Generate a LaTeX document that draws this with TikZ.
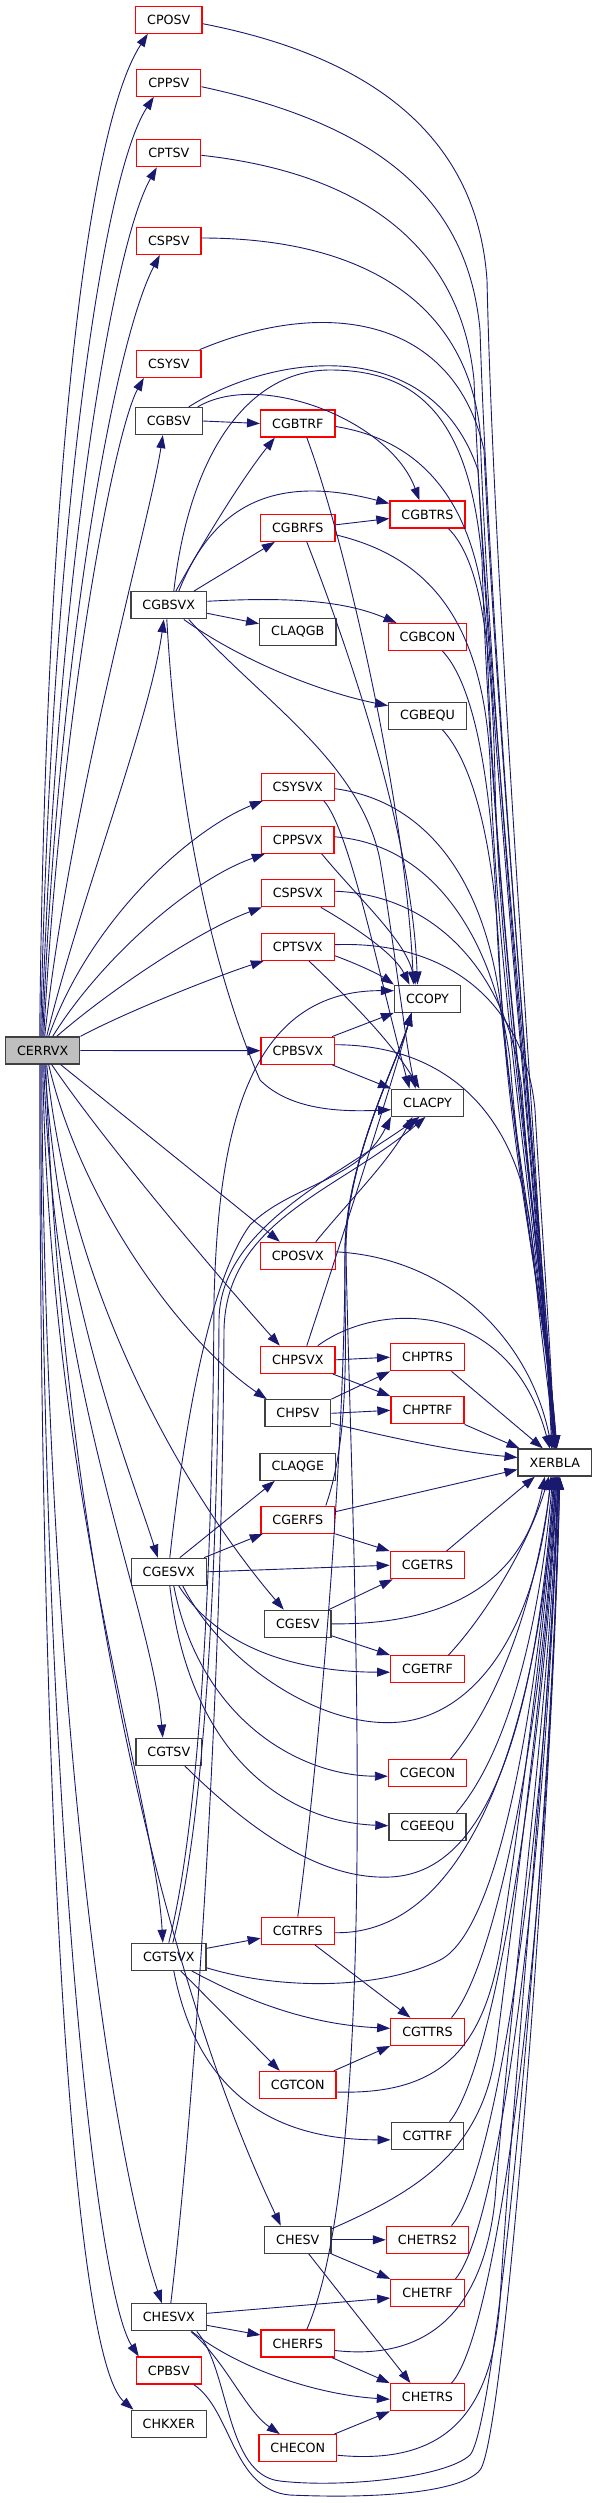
\documentclass[tikz,border=0pt]{standalone}
\usepackage{fontspec}
\newfontfamily\dvs{DejaVu Sans}
\usetikzlibrary{arrows.meta}
\definecolor{edgec}{HTML}{191970}
\definecolor{gfill}{HTML}{BFBFBF}
\begin{document}
\begin{tikzpicture}[x=1pt,y=-1pt,
 box/.style={draw=black!75, line width=1.3pt, fill=white, font=\dvs\fontsize{12.7}{15}\selectfont, minimum height=27pt, inner xsep=11.5pt, inner ysep=0pt},
 rbox/.style={box, draw=red},
 e/.style={draw=edgec, line width=0.9pt, -{Triangle[length=13pt,width=9pt]}}]
\useasboundingbox[fill=white] (0,0) rectangle (595,2503);
% nodes
\node[box, fill=gfill] (CERRVX) at (42.7,1050.5) {CERRVX};
\node[rbox] (CPOSV) at (168.8,19.7) {CPOSV};
\node[rbox] (CPPSV) at (168.8,82.7) {CPPSV};
\node[rbox] (CPTSV) at (168.8,153.3) {CPTSV};
\node[rbox] (CSPSV) at (168.8,241) {CSPSV};
\node[rbox] (CSYSV) at (168.8,363.8) {CSYSV};
\node[box] (CGBSV) at (168.8,421) {CGBSV};
\node[box] (CGBSVX) at (168.8,605.3) {CGBSVX};
\node[box] (CGESVX) at (168.8,1571.8) {CGESVX};
\node[box] (CGTSV) at (168.8,1751.8) {CGTSV};
\node[box] (CGTSVX) at (168.8,1956.8) {CGTSVX};
\node[box] (CHESVX) at (168.8,2317.3) {CHESVX};
\node[rbox] (CPBSV) at (168.8,2370.5) {CPBSV};
\node[box] (CHKXER) at (168.8,2423.8) {CHKXER};
\node[rbox] (CGBTRF) at (297.8,423.5) {CGBTRF};
\node[rbox] (CGBRFS) at (297.8,527.8) {CGBRFS};
\node[box] (CLAQGB) at (297.8,631.7) {CLAQGB};
\node[rbox] (CSYSVX) at (297.8,786.7) {CSYSVX};
\node[rbox] (CPPSVX) at (297.8,839.8) {CPPSVX};
\node[rbox] (CSPSVX) at (297.8,893.2) {CSPSVX};
\node[rbox] (CPTSVX) at (297.8,946.7) {CPTSVX};
\node[rbox] (CPBSVX) at (297.8,1050.7) {CPBSVX};
\node[rbox] (CPOSVX) at (297.8,1255.8) {CPOSVX};
\node[rbox] (CHPSVX) at (297.8,1359.8) {CHPSVX};
\node[box] (CHPSV) at (297.8,1413.3) {CHPSV};
\node[box] (CLAQGE) at (297.8,1466.7) {CLAQGE};
\node[rbox] (CGERFS) at (297.8,1519.7) {CGERFS};
\node[box] (CGESV) at (297.8,1623.8) {CGESV};
\node[rbox] (CGTRFS) at (297.8,1930.7) {CGTRFS};
\node[rbox] (CGTCON) at (297.8,2085) {CGTCON};
\node[box] (CHESV) at (297.8,2239.8) {CHESV};
\node[rbox] (CHERFS) at (297.8,2343.5) {CHERFS};
\node[rbox] (CHECON) at (297.8,2448.2) {CHECON};
\node[rbox] (CGBTRS) at (427.5,514.5) {CGBTRS};
\node[rbox] (CGBCON) at (427.5,637) {CGBCON};
\node[box] (CGBEQU) at (427.5,715.7) {CGBEQU};
\node[box] (CCOPY) at (427.5,998.7) {CCOPY};
\node[box] (CLACPY) at (427.5,1102.7) {CLACPY};
\node[rbox] (CHPTRS) at (427.5,1357.2) {CHPTRS};
\node[rbox] (CHPTRF) at (427.5,1410.3) {CHPTRF};
\node[rbox] (CGETRS) at (427.5,1565.2) {CGETRS};
\node[rbox] (CGETRF) at (427.5,1669.2) {CGETRF};
\node[rbox] (CGECON) at (427.5,1773.2) {CGECON};
\node[box] (CGEEQU) at (427.5,1826.7) {CGEEQU};
\node[rbox] (CGTTRS) at (427.5,2031.8) {CGTTRS};
\node[box] (CGTTRF) at (427.5,2135.8) {CGTTRF};
\node[rbox] (CHETRS2) at (427.5,2239.8) {CHETRS2};
\node[rbox] (CHETRF) at (427.5,2293) {CHETRF};
\node[rbox] (CHETRS) at (427.5,2397.2) {CHETRS};
\node[box] (XERBLA) at (554.8,1462.5) {XERBLA};
% CERRVX out
\draw[e] ([xshift=-3pt]CERRVX.north) .. controls (45,500) and (85,130) .. ([xshift=-21pt]CPOSV.south);
\draw[e] ([xshift=-2pt]CERRVX.north) .. controls (50,550) and (100,180) .. ([xshift=-15pt]CPPSV.south);
\draw[e] ([xshift=-1pt]CERRVX.north) .. controls (55,600) and (110,250) .. ([xshift=-12pt]CPTSV.south);
\draw[e] (CERRVX.north) .. controls (58,650) and (115,340) .. ([xshift=-9pt]CSPSV.south);
\draw[e] ([xshift=1pt]CERRVX.north) .. controls (62,700) and (115,430) .. ([xshift=-25pt]CSYSV.south);
\draw[e] ([xshift=2pt]CERRVX.north) .. controls (70,800) and (150,520) .. ([xshift=-6pt]CGBSV.south);
\draw[e] ([xshift=4pt]CERRVX.north) .. controls (80,900) and (150,720) .. ([xshift=-5pt]CGBSVX.south);
\draw[e] ([xshift=6pt]CERRVX.north) .. controls (90,920) and (190,830) .. ([xshift=-35pt]CSYSVX.south);
\draw[e] ([xshift=10pt]CERRVX.north) .. controls (100,960) and (190,880) .. ([xshift=-33pt]CPPSVX.south);
\draw[e] ([xshift=14pt]CERRVX.north) .. controls (110,990) and (200,930) .. ([xshift=-36pt]CSPSVX.south);
\draw[e] (CERRVX.north east) .. controls (130,1010) and (220,975) .. ([xshift=-34pt]CPTSVX.south);
\draw[e] (CERRVX.east) -- (CPBSVX.west);
\draw[e] ([xshift=18pt]CERRVX.south) -- ([xshift=-18pt]CPOSVX.north);
\draw[e] ([xshift=9pt]CERRVX.south) .. controls (110,1150) and (230,1290) .. ([xshift=-18pt]CHPSVX.north);
\draw[e] ([xshift=6pt]CERRVX.south) .. controls (80,1200) and (180,1340) .. ([xshift=-31pt]CHPSV.north);
\draw[e] ([xshift=4pt]CERRVX.south) .. controls (70,1300) and (190,1500) .. ([xshift=-14pt]CGESV.north);
\draw[e] ([xshift=2pt]CERRVX.south) .. controls (60,1300) and (130,1470) .. ([xshift=-11pt]CGESVX.north);
\draw[e] ([xshift=1pt]CERRVX.south) .. controls (55,1400) and (150,1600) .. ([xshift=-6pt]CGTSV.north);
\draw[e] (CERRVX.south) .. controls (50,1500) and (155,1800) .. ([xshift=-6pt]CGTSVX.north);
\draw[e] ([xshift=3pt]CERRVX.south) .. controls (60,1500) and (150,1950) .. ([xshift=-17pt]CHESV.north);
\draw[e] ([xshift=-1pt]CERRVX.south) .. controls (45,1700) and (110,2150) .. ([xshift=-7pt]CHESVX.north);
\draw[e] ([xshift=-2pt]CERRVX.south) .. controls (42,1800) and (95,2290) .. ([xshift=3pt]CPBSV.north west);
\draw[e] ([xshift=-3pt]CERRVX.south) .. controls (40,1850) and (75,2360) .. ([xshift=3pt]CHKXER.north west);
% to XERBLA from above
\draw[e] ([yshift=-4pt]CPOSV.east) .. controls (390,60) and (478,150) .. (487,280) .. controls (494,600) and (540,1200) .. ([xshift=-3pt]XERBLA.north);
\draw[e] ([yshift=-4pt]CPPSV.east) .. controls (380,125) and (468,200) .. (480,330) .. controls (490,650) and (538,1200) .. ([xshift=-2pt]XERBLA.north);
\draw[e] ([yshift=-2pt]CPTSV.east) .. controls (380,175) and (462,260) .. (474,380) .. controls (486,700) and (536,1200) .. ([xshift=-1pt]XERBLA.north);
\draw[e] ([yshift=3pt]CSPSV.east) .. controls (360,238) and (465,300) .. (480,430) .. controls (490,720) and (536,1200) .. (XERBLA.north);
\draw[e] ([xshift=-2pt]CSYSV.north east) .. controls (330,295) and (455,320) .. (484,450) .. controls (496,720) and (538,1200) .. ([xshift=1pt]XERBLA.north);
\draw[e] ([xshift=20pt]CGBSV.north) .. controls (270,355) and (430,330) .. (478,470) .. controls (494,740) and (538,1200) .. ([xshift=1pt]XERBLA.north);
\draw[e] ([yshift=-3pt]CGBTRF.east) .. controls (420,440) and (480,500) .. (487,640) .. controls (494,900) and (540,1250) .. ([xshift=2pt]XERBLA.north);
\draw[e] ([xshift=5pt]CGBSVX.north) .. controls (190,450) and (250,370) .. (330,370) .. controls (420,370) and (470,420) .. (482,560) .. controls (492,900) and (540,1250) .. ([xshift=1pt]XERBLA.north);
\draw[e] ([yshift=-7pt]CGBRFS.east) .. controls (420,555) and (482,610) .. (490,760) .. controls (498,1000) and (540,1250) .. (XERBLA.north);
\draw[e] ([xshift=21pt]CGBTRS.south) .. controls (480,560) and (492,640) .. (495,780) .. controls (500,1000) and (542,1250) .. ([xshift=1pt]XERBLA.north);
\draw[e] ([xshift=15pt]CGBCON.south) .. controls (470,680) and (490,760) .. (496,900) .. controls (502,1100) and (544,1300) .. ([xshift=2pt]XERBLA.north);
\draw[e] ([xshift=15pt]CGBEQU.south) .. controls (470,760) and (492,830) .. (499,950) .. controls (506,1150) and (546,1300) .. ([xshift=2pt]XERBLA.north);
\draw[e] ([yshift=-2pt]CSYSVX.east) .. controls (420,800) and (482,870) .. (500,1000) .. controls (515,1150) and (546,1300) .. (XERBLA.north);
\draw[e] ([yshift=3pt]CPPSVX.east) .. controls (440,845) and (496,950) .. (510,1060) .. controls (520,1200) and (547,1330) .. (XERBLA.north);
\draw[e] ([yshift=2pt]CSPSVX.east) .. controls (440,895) and (510,980) .. (522,1090) .. controls (530,1210) and (548,1330) .. (XERBLA.north);
\draw[e] ([yshift=2pt]CPTSVX.east) .. controls (455,940) and (526,1010) .. (535,1110) .. controls (542,1230) and (550,1340) .. (XERBLA.north);
\draw[e] ([yshift=6pt]CPBSVX.east) .. controls (460,1045) and (522,1130) .. (532,1240) .. controls (540,1330) and (550,1400) .. (XERBLA.north);
\draw[e] ([yshift=4pt]CPOSVX.east) .. controls (450,1258) and (530,1340) .. ([xshift=-3pt]XERBLA.north);
\draw[e] ([xshift=20pt]CHPSVX.north) .. controls (380,1300) and (510,1300) .. ([xshift=-5pt]XERBLA.north);
\draw[e] ([xshift=24pt]CHPTRS.south) -- ([xshift=-12pt]XERBLA.north);
\draw[e] (CHPTRF.south east) -- ([xshift=2pt]XERBLA.north west);
\draw[e] ([yshift=-10pt]CHPSV.east) .. controls (400,1440) and (460,1452) .. ([yshift=5pt]XERBLA.west);
\draw[e] ([yshift=8pt]CGERFS.east) -- ([yshift=-7pt]XERBLA.west);
% to XERBLA from below
\draw[e] ([xshift=19pt]CGETRS.north) -- ([xshift=-20pt]XERBLA.south);
\draw[e] (CGESV.east) .. controls (420,1625) and (520,1600) .. ([xshift=-10pt]XERBLA.south);
\draw[e] ([xshift=21pt]CGETRF.north) .. controls (490,1610) and (530,1540) .. ([xshift=-6pt]XERBLA.south);
\draw[e] ([xshift=14pt]CGESVX.south) .. controls (220,1660) and (320,1730) .. (400,1722) .. controls (470,1715) and (535,1640) .. ([xshift=-4pt]XERBLA.south);
\draw[e] ([xshift=23pt]CGECON.north) .. controls (500,1700) and (535,1600) .. ([xshift=-3pt]XERBLA.south);
\draw[e] ([xshift=29pt]CGEEQU.north) .. controls (510,1750) and (540,1620) .. ([xshift=-2pt]XERBLA.south);
\draw[e] ([xshift=16pt]CGTSV.south) .. controls (250,1830) and (320,1880) .. (390,1877) .. controls (460,1874) and (530,1800) .. ([xshift=-1pt]XERBLA.south);
\draw[e] ([yshift=-11pt]CGTSVX.east) .. controls (280,1990) and (380,1990) .. (440,1960) .. controls (500,1930) and (538,1700) .. (XERBLA.south);
\draw[e] ([yshift=-2pt]CGTRFS.east) .. controls (480,1935) and (540,1700) .. (XERBLA.south);
\draw[e] ([xshift=24pt]CGTTRS.north) .. controls (500,1960) and (545,1700) .. ([xshift=1pt]XERBLA.south);
\draw[e] ([yshift=-7pt]CGTCON.east) .. controls (440,2095) and (482,2050) .. (500,1950) .. controls (520,1820) and (548,1600) .. ([xshift=1pt]XERBLA.south);
\draw[e] ([xshift=22pt]CGTTRF.north) .. controls (500,2060) and (548,1700) .. ([xshift=2pt]XERBLA.south);
\draw[e] ([yshift=11pt]CHESV.east) .. controls (420,2190) and (482,2150) .. (496,2050) .. controls (515,1900) and (548,1650) .. ([xshift=2pt]XERBLA.south);
\draw[e] ([xshift=24pt]CHETRS2.north) .. controls (500,2170) and (549,1800) .. ([xshift=3pt]XERBLA.south);
\draw[e] ([xshift=28pt]CHETRF.north) .. controls (505,2220) and (550,1800) .. ([xshift=3pt]XERBLA.south);
\draw[e] ([yshift=-7pt]CHERFS.east) .. controls (420,2360) and (482,2320) .. (495,2200) .. controls (510,2000) and (550,1700) .. ([xshift=3pt]XERBLA.south);
\draw[e] ([xshift=24pt]CHETRS.north) .. controls (500,2330) and (551,1900) .. ([xshift=4pt]XERBLA.south);
\draw[e] ([yshift=-7pt]CHECON.east) .. controls (440,2465) and (492,2420) .. (500,2300) .. controls (512,2100) and (551,1700) .. ([xshift=4pt]XERBLA.south);
\draw[e] ([xshift=28pt]CHESVX.south) .. controls (230,2370) and (225,2475) .. (280,2481) .. controls (340,2488) and (445,2478) .. (470,2455) .. controls (500,2420) and (552,1800) .. ([xshift=5pt]XERBLA.south);
\draw[e] ([xshift=25pt]CPBSV.south) .. controls (232,2410) and (232,2490) .. (290,2495) .. controls (380,2499) and (462,2492) .. (480,2470) .. controls (505,2440) and (553,1800) .. ([xshift=5pt]XERBLA.south);
% internal
\draw[e] (CGBSV.east) -- (CGBTRF.west);
\draw[e] ([xshift=29pt]CGBSV.north) .. controls (260,370) and (390,420) .. ([xshift=-8pt]CGBTRS.north);
\draw[e] ([xshift=7pt]CGBSVX.north) .. controls (210,530) and (245,475) .. ([xshift=-23pt]CGBTRF.south);
\draw[e] ([xshift=10pt]CGBSVX.north) .. controls (215,500) and (280,475) .. ([yshift=11pt]CGBTRS.west);
\draw[e] ([xshift=25pt]CGBSVX.north) -- ([xshift=-23pt]CGBRFS.south);
\draw[e] ([yshift=-8pt]CGBSVX.east) -- ([yshift=8pt]CLAQGB.west);
\draw[e] ([yshift=4pt]CGBSVX.east) .. controls (300,596) and (350,603) .. ([xshift=9pt]CGBCON.north west);
\draw[e] ([xshift=15pt]CGBSVX.south) .. controls (240,660) and (320,692) .. ([yshift=10pt]CGBEQU.west);
\draw[e] ([yshift=3pt]CGBRFS.east) -- ([yshift=-4pt]CGBTRS.west);
\draw[e] ([xshift=9pt]CGBTRF.south) .. controls (345,540) and (405,800) .. ([xshift=-14pt]CCOPY.north);
\draw[e] ([xshift=9pt]CGBRFS.south) .. controls (345,640) and (412,830) .. ([xshift=-10pt]CCOPY.north);
\draw[e] ([xshift=-2pt]CGBSVX.south) .. controls (180,850) and (225,1000) .. (260,1080) .. controls (290,1110) and (340,1112) .. ([yshift=-7pt]CLACPY.west);
\draw[e] ([xshift=20pt]CGBSVX.south) .. controls (260,700) and (360,760) .. (380,860) .. controls (395,950) and (405,1040) .. ([xshift=-12pt]CLACPY.north);
\draw[e] ([xshift=26pt]CSYSVX.south) .. controls (350,830) and (380,980) .. ([xshift=-18pt]CLACPY.north);
\draw[e] ([xshift=24pt]CPPSVX.south) .. controls (360,900) and (405,940) .. ([xshift=-12pt]CCOPY.north);
\draw[e] ([xshift=23pt]CSPSVX.south) .. controls (360,930) and (395,955) .. ([xshift=-18pt]CCOPY.north);
\draw[e] ([yshift=-9pt]CPTSVX.east) .. controls (360,965) and (380,975) .. (CCOPY.north west);
\draw[e] ([xshift=11pt]CPTSVX.south) .. controls (350,1000) and (390,1040) .. ([xshift=-8pt]CLACPY.north);
\draw[e] ([xshift=-3pt]CPBSVX.north east) -- (CCOPY.south west);
\draw[e] ([xshift=-3pt]CPBSVX.south east) -- (CLACPY.north west);
\draw[e] ([xshift=18pt]CPOSVX.north) .. controls (350,1200) and (390,1160) .. ([xshift=-15pt]CLACPY.south);
\draw[e] ([xshift=9pt]CHPSVX.north) .. controls (335,1260) and (390,1090) .. ([xshift=-16pt]CCOPY.south);
\draw[e] (CHPSVX.east) -- (CHPTRS.west);
\draw[e] ([xshift=-3pt]CHPSVX.south east) -- (CHPTRF.north west);
\draw[e] (CHPSV.north east) -- (CHPTRS.south west);
\draw[e] (CHPSV.east) -- (CHPTRF.west);
\draw[e] ([xshift=11pt]CGESVX.north) -- ([xshift=-23pt]CLAQGE.south);
\draw[e] ([xshift=-3pt]CGESVX.north east) -- ([xshift=-35pt]CGERFS.south);
\draw[e] (CGESVX.east) -- (CGETRS.west);
\draw[e] (CGERFS.south east) -- (CGETRS.north west);
\draw[e] ([xshift=28pt]CGERFS.north) .. controls (352,1430) and (344,1330) .. (345,1250) .. controls (346,1160) and (398,1060) .. ([xshift=-16pt]CCOPY.south);
\draw[e] ([xshift=-3pt]CGESV.north east) -- ([xshift=3pt]CGETRS.south west);
\draw[e] ([yshift=-12pt]CGESV.east) -- (CGETRF.north west);
\draw[e] ([xshift=10pt]CGESVX.south) .. controls (220,1650) and (300,1672) .. ([yshift=-3pt]CGETRF.west);
\draw[e] ([xshift=5pt]CGESVX.south) .. controls (200,1720) and (300,1776) .. ([yshift=-3pt]CGECON.west);
\draw[e] ([xshift=1pt]CGESVX.south) .. controls (190,1760) and (290,1822) .. ([yshift=1pt]CGEEQU.west);
\draw[e] ([xshift=1pt]CGESVX.north) .. controls (185,1420) and (210,1280) .. (250,1225) .. controls (290,1185) and (360,1180) .. (CLACPY.south west);
\draw[e] (CGTSVX.north) .. controls (205,1800) and (213,1500) .. (214,1300) .. controls (218,1150) and (240,990) .. ([yshift=8pt]CCOPY.west);
\draw[e] ([xshift=4pt]CGTSVX.north) .. controls (210,1800) and (218,1500) .. (219,1320) .. controls (220,1230) and (330,1180) .. ([xshift=-8pt]CLACPY.south);
\draw[e] ([xshift=2pt]CHESVX.north) .. controls (195,2100) and (222,1700) .. (224,1330) .. controls (226,1220) and (340,1190) .. ([xshift=-2pt]CLACPY.south);
\draw[e] (CGTRFS.north) .. controls (320,1750) and (345,1450) .. (345,1250) .. controls (346,1160) and (398,1060) .. ([xshift=-16pt]CCOPY.south);
\draw[e] ([xshift=9pt]CHERFS.north) .. controls (385,2150) and (350,1500) .. (346,1250) .. controls (346,1160) and (398,1060) .. ([xshift=-16pt]CCOPY.south);
\draw[e] ([yshift=8.5pt]CGTSVX.east) -- ([yshift=-7.5pt]CGTRFS.west);
\draw[e] ([xshift=23pt]CGTSVX.south) .. controls (260,2008) and (320,2025) .. ([yshift=3.5pt]CGTTRS.west);
\draw[e] ([xshift=12pt]CGTSVX.south) -- ([xshift=-18pt]CGTCON.north);
\draw[e] ([xshift=5pt]CGTSVX.south) .. controls (195,2080) and (260,2140) .. ([yshift=-4pt]CGTTRF.west);
\draw[e] ([xshift=17pt]CGTRFS.south) -- ([xshift=-17pt]CGTTRS.north);
\draw[e] ([xshift=-3pt]CGTCON.north east) -- (CGTTRS.south west);
\draw[e] (CHESV.east) -- (CHETRS2.west);
\draw[e] (CHESV.south east) -- (CHETRF.north west);
\draw[e] ([xshift=11pt]CHESV.south) -- ([xshift=-17pt]CHETRS.north);
\draw[e] ([yshift=4pt]CHESVX.east) -- ([yshift=-5pt]CHETRF.west);
\draw[e] ([yshift=-8pt]CHESVX.east) -- ([yshift=8.5pt]CHERFS.west);
\draw[e] ([xshift=23pt]CHESVX.south) .. controls (240,2370) and (320,2395) .. ([yshift=-2pt]CHETRS.west);
\draw[e] ([xshift=22pt]CHESVX.south) .. controls (225,2360) and (245,2410) .. ([xshift=-18pt]CHECON.north);
\draw[e] ([xshift=-3pt]CHERFS.south east) -- (CHETRS.north west);
\draw[e] ([xshift=-3pt]CHECON.north east) -- (CHETRS.south west);
\end{tikzpicture}
\end{document}
